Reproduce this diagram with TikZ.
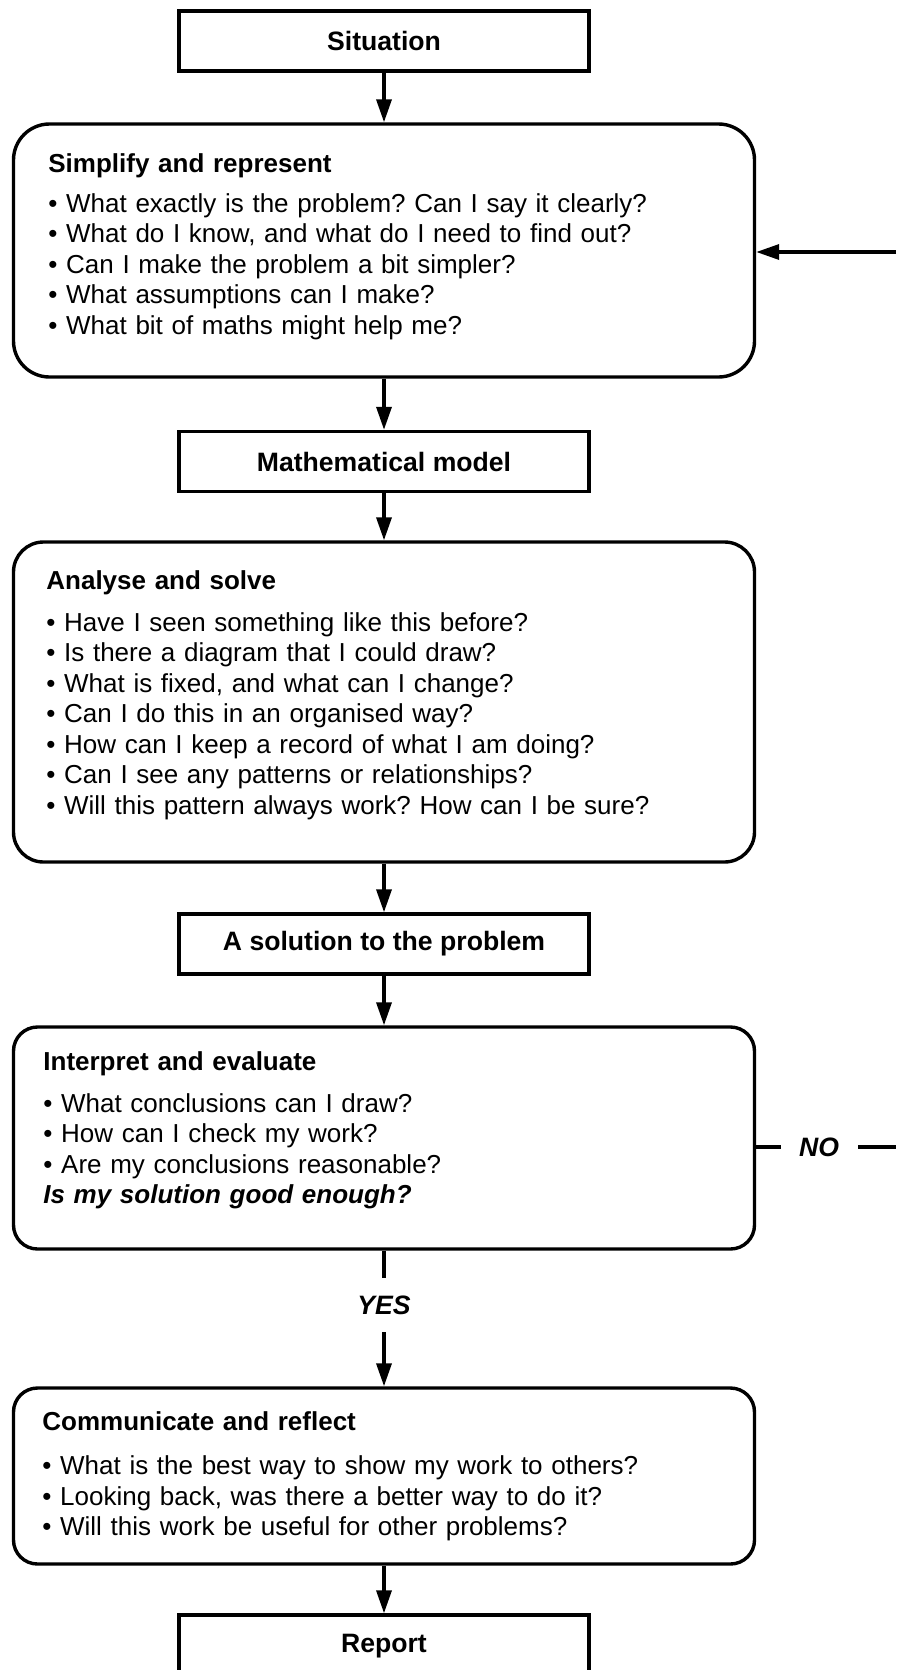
\documentclass[tikz,border=0pt]{standalone}
\usepackage{fontspec}
\setmainfont{Liberation Sans}
\usetikzlibrary{arrows.meta}
\frenchspacing

\tikzset{
  title/.style={draw, line width=1.7pt, minimum width=205pt, minimum height=30pt, inner sep=0pt,
    font=\fontsize{13.3}{15.25}\selectfont\bfseries},
  stage/.style={draw, line width=1.7pt, minimum width=370.5pt, inner sep=0pt},
  stagetext/.style={anchor=base west, inner sep=0pt, text width=345pt, align=left,
    font=\fontsize{13}{15.25}\selectfont},
  flow/.style={line width=1.7pt, -{Triangle[length=11.5pt,width=7.5pt]}},
  answer/.style={fill=white, inner sep=0pt, font=\fontsize{13.3}{15.25}\selectfont\bfseries\itshape}
}

\begin{document}
\begin{tikzpicture}[x=0.5pt, y=-0.5pt]
\useasboundingbox (0,0) rectangle (896,1670);

% Boxes
\node[title] (situation) at (384,41) {Situation};
\node[stage, rounded corners=18pt, minimum height=126.5pt] (simplify) at (384,250.5) {};
\node[title] (model) at (384,461.5) {Mathematical model};
\node[stage, rounded corners=15pt, minimum height=160pt] (analyse) at (384,702) {};
\node[title] (solution) at (384,944) {A solution to the problem};
\node[stage, rounded corners=12pt, minimum height=111pt] (interpret) at (384,1138) {};
\node[stage, rounded corners=12pt, minimum height=88pt] (communicate) at (384,1476) {};
\node[title, minimum height=31pt] (report) at (384,1646) {Report};

% Questions
\node[stagetext] (simplifytext) at (48,172) {\textbf{Simplify and represent}\\[4.75pt]
\textbullet\ What exactly is the problem? Can I say it clearly?\\
\textbullet\ What do I know, and what do I need to find out?\\
\textbullet\ Can I make the problem a bit simpler?\\
\textbullet\ What assumptions can I make?\\
\textbullet\ What bit of maths might help me?};
\node[stagetext] (analysetext) at (46,589) {\textbf{Analyse and solve}\\[5.75pt]
\textbullet\ Have I seen something like this before?\\
\textbullet\ Is there a diagram that I could draw?\\
\textbullet\ What is fixed, and what can I change?\\
\textbullet\ Can I do this in an organised way?\\
\textbullet\ How can I keep a record of what I am doing?\\
\textbullet\ Can I see any patterns or relationships?\\
\textbullet\ Will this pattern always work? How can I be sure?};
\node[stagetext] (interprettext) at (43,1070) {\textbf{Interpret and evaluate}\\[5.75pt]
\textbullet\ What conclusions can I draw?\\
\textbullet\ How can I check my work?\\
\textbullet\ Are my conclusions reasonable?\\
\textbf{\textit{Is my solution good enough?}}};
\node[stagetext] (communicatetext) at (42,1430) {\textbf{Communicate and reflect}\\[7pt]
\textbullet\ What is the best way to show my work to others?\\
\textbullet\ Looking back, was there a better way to do it?\\
\textbullet\ Will this work be useful for other problems?};

% Arrows
\draw[flow] (situation) -- (simplify);
\draw[flow] (simplify) -- (model);
\draw[flow] (model) -- (analyse);
\draw[flow] (analyse) -- (solution);
\draw[flow] (solution) -- (interpret);
\draw[flow] (interpret) -- node[answer, pos=0.4, inner ysep=8.7pt] (yes) {YES} (communicate);
\draw[flow] (communicate) -- (report);

% Loop back (cut at the edge)
\coordinate (loopout) at (896,1147);
\coordinate (loopin) at (896,252);
\draw[line width=1.7pt] ([yshift=-4.5pt]interpret.east) -- node[answer, pos=0.45, inner xsep=9.25pt] (no) {NO} (loopout);
\draw[flow] (loopin) -- (loopin -| simplify.east);
\end{tikzpicture}
\end{document}
